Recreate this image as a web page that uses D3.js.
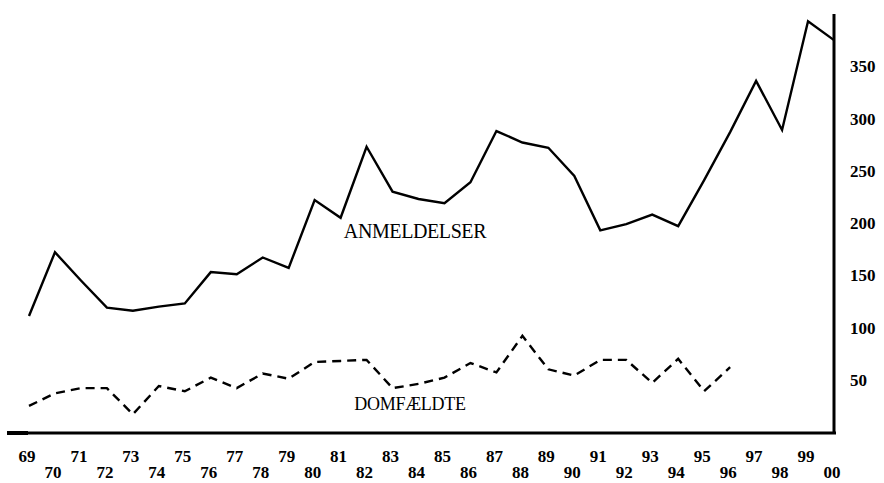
<!DOCTYPE html>
<html>
<head>
<meta charset="utf-8">
<script src="https://cdn.jsdelivr.net/npm/d3@7"></script>
<style>
  body { margin: 0; background: #fff; }
  svg { display: block; }
  text { font-family: "Liberation Serif", "Times New Roman", serif; fill: #000; }
</style>
</head>
<body>
<div id="chart"></div>
<script>
(function () {
	// data
	var years = ['69','70','71','72','73','74','75','76','77','78','79','80','81','82','83','84',
		'85','86','87','88','89','90','91','92','93','94','95','96','97','98','99','00'];
	var anmeldelser = [111, 172, 145, 119, 116, 120, 123, 153, 151, 167, 157, 222, 205, 273, 230, 223,
		219, 239, 288, 277, 272, 245, 193, 199, 208, 197, 241, 287, 336, 289, 393, 375];
	var domfaeldte = [25, 37, 42, 42, 17, 44, 39, 52, 42, 56, 51, 67, 68, 69, 42, 46,
		52, 66, 57, 92, 60, 54, 69, 69, 47, 70, 39, 62, null, null, null, null];
	var yTicks = [50, 100, 150, 200, 250, 300, 350];

	var width = 884;
	var height = 483;
	var strokeColor = '#000';

	var svg = d3.select('#chart').append('svg')
		.attr('width', width).attr('height', height);

	var x = d3.scalePoint().domain(years).range([29, 834]);
	var y = d3.scaleLinear().domain([0, 400]).range([432, 14]);

	// axes lines
	svg.append('line')
		.attr('x1', 7).attr('x2', 836)
		.attr('y1', y(0) + 1).attr('y2', y(0) + 1)
		.attr('stroke', strokeColor).attr('stroke-width', 3);
	svg.append('line')
		.attr('x1', 7).attr('x2', 28)
		.attr('y1', y(0) + 1).attr('y2', y(0) + 1)
		.attr('stroke', strokeColor).attr('stroke-width', 4);
	svg.append('line')
		.attr('x1', 834).attr('x2', 834)
		.attr('y1', y(400)).attr('y2', y(0) + 2)
		.attr('stroke', strokeColor).attr('stroke-width', 3);

	// year labels, odd on top row, even below
	svg.selectAll('.xlab')
		.data(years).enter().append('text')
		.classed('xlab', true)
		.attr('x', d => x(d) - 2)
		.attr('y', (d, i) => i % 2 === 0 ? 462 : 478)
		.attr('text-anchor', 'middle')
		.attr('font-size', 17)
		.attr('font-weight', 'bold')
		.text(d => d);

	// value labels on right side
	svg.selectAll('.ylab')
		.data(yTicks).enter().append('text')
		.classed('ylab', true)
		.attr('x', 850)
		.attr('y', d => y(d) + 6)
		.attr('font-size', 17)
		.attr('font-weight', 'bold')
		.text(d => d);

	var line = d3.line()
		.defined(d => d != null)
		.x((d, i) => x(years[i]))
		.y(d => y(d));

	svg.append('path')
		.attr('d', line(anmeldelser))
		.attr('fill', 'none')
		.attr('stroke', strokeColor)
		.attr('stroke-width', 2.4)
		.attr('stroke-linejoin', 'miter');

	svg.append('path')
		.attr('d', line(domfaeldte))
		.attr('fill', 'none')
		.attr('stroke', strokeColor)
		.attr('stroke-width', 2.4)
		.attr('stroke-dasharray', '9 6');

	// series names
	svg.append('text')
		.attr('x', 415).attr('y', 238)
		.attr('text-anchor', 'middle')
		.attr('font-size', 20)
		.attr('letter-spacing', -0.4)
		.text('ANMELDELSER');
	svg.append('text')
		.attr('x', 410).attr('y', 410)
		.attr('text-anchor', 'middle')
		.attr('font-size', 18)
		.attr('letter-spacing', -0.3)
		.text('DOMFÆLDTE');
})();
</script>
</body>
</html>
